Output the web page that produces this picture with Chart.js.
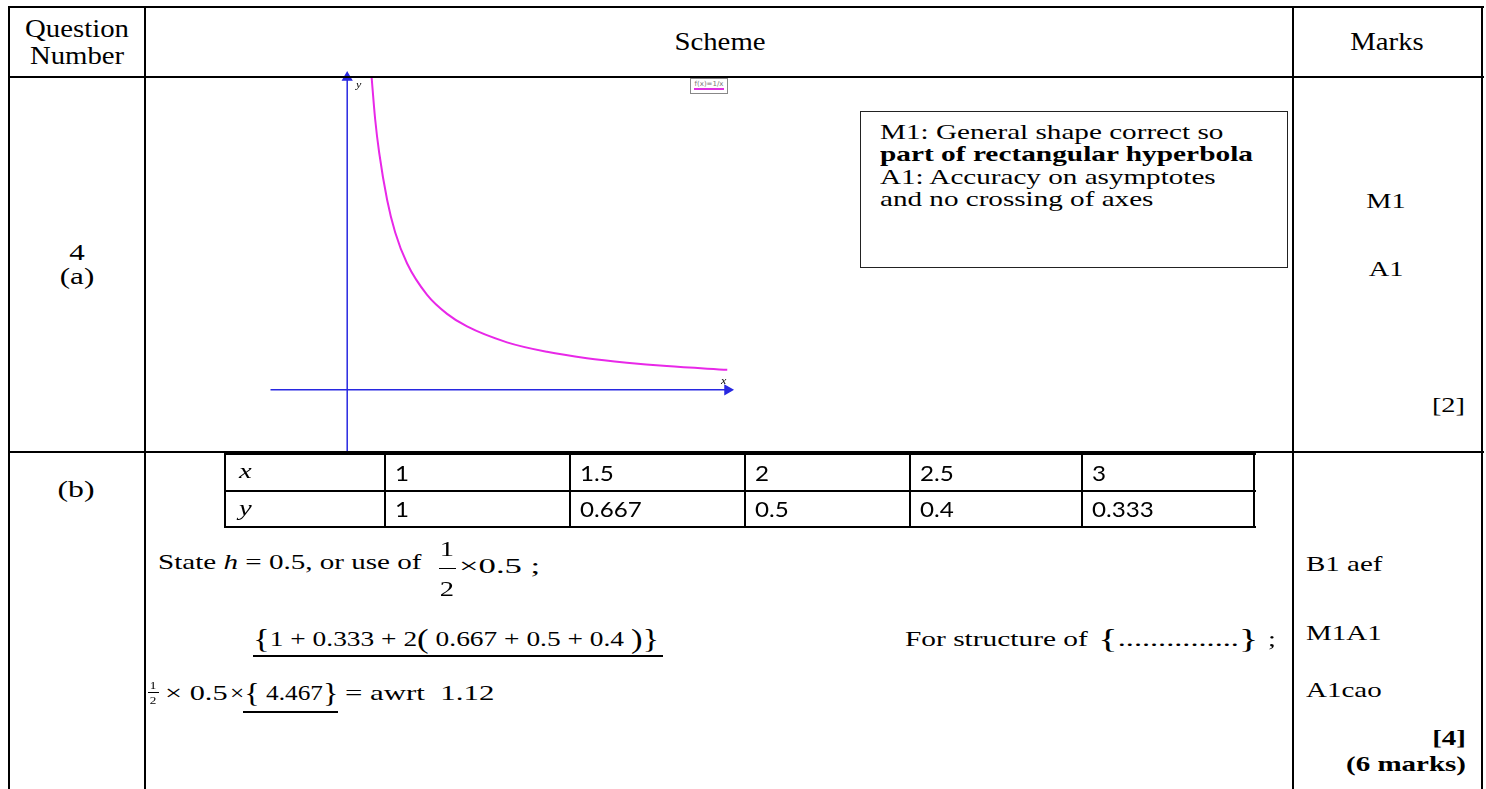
<!DOCTYPE html>
<html>
<head>
<meta charset="utf-8">
<script src="https://cdn.jsdelivr.net/npm/chart.js@4.4.0/dist/chart.umd.min.js"></script>
<style>
  body { margin: 0; background: #fff; width: 1486px; height: 789px; overflow: hidden; position: relative;
         font-family: 'Liberation Serif', 'Times New Roman', serif; color: #000; }
  .ln { position: absolute; background: #000; }
  .t { position: absolute; white-space: nowrap; transform-origin: 0 50%; }
  .box { position: absolute; border: 1.5px solid #222; box-sizing: border-box; }
  .big { font-size: 28px; vertical-align: -2px; }
  #plot { position: absolute; left: 264px; top: 71px; }
  #lg { position: absolute; left: 690px; top: 78px; width: 38px; height: 16px; border: 1px solid #888;
        box-sizing: border-box; background: #fff; font: 7px 'DejaVu Sans', sans-serif; color: #777; text-align: center; }
  #lg span { display: block; margin: 1px 3px 0; border-bottom: 2px solid #e030e0; line-height: 8px; }
</style>
</head>
<body>
<canvas id="plot" width="470" height="387"></canvas>
<div id="lg"><span>f(x)=1/x</span></div>
<script>
// table values for part (b)
const tableX = ['1', '1.5', '2', '2.5', '3'];
const tableY = ['1', '0.667', '0.5', '0.4', '0.333'];

// sketch of the curve
const curveX = [0.30, 0.35, 0.40, 0.50, 0.60, 0.75, 1.0, 1.25, 1.5, 2.0, 2.5, 3.0, 3.5, 4.0, 4.76];
const curveY = [3.35, 2.85, 2.50, 2.00, 1.66, 1.33, 1.00, 0.80, 0.667, 0.50, 0.40, 0.333, 0.286, 0.25, 0.21];

// axis extents of the sketch
const xRange = [-0.96, 4.76];
const yRange = [-0.65, 3.29];

const blue = 'rgb(40,40,225)';
const pink = 'rgb(232,40,232)';

function line(x, y, w, h) {
    const d = document.createElement('div');
    d.className = 'ln';
    d.style.left = x + 'px'; d.style.top = y + 'px';
    d.style.width = w + 'px'; d.style.height = h + 'px';
    document.body.appendChild(d);
}

// place a text; o.w = width to stretch it to, otherwise o.sx
function txt(html, x, y, o) {
    o = o || {};
    const size = o.size || 20;
    const d = document.createElement('div');
    d.className = 't';
    d.innerHTML = html;
    d.style.fontSize = size + 'px';
    d.style.lineHeight = size + 'px';
    d.style.left = x + 'px';
    d.style.top = (y - size / 2) + 'px';
    if (o.font) d.style.fontFamily = o.font;
    if (o.bold) d.style.fontWeight = 'bold';
    if (o.italic) d.style.fontStyle = 'italic';
    document.body.appendChild(d);
    let sx = o.sx || 1.4;
    if (o.w) sx = o.w / d.offsetWidth;
    let shift = '';
    if (o.align === 'center') shift = ' translateX(-50%)';
    if (o.align === 'right') shift = ' translateX(-100%)';
    d.style.transform = 'scaleX(' + sx + ')' + shift;
    return d;
}

// outer grid
line(8, 6, 1476, 2);
line(8, 76, 1476, 2);
line(8, 451, 1476, 2);
[8, 144, 1292, 1481].forEach(x => line(x, 6, 2, 789));

// header
txt('Question', 77, 28, { size: 25, sx: 1.15, align: 'center' });
txt('Number', 77, 55, { size: 25, sx: 1.15, align: 'center' });
txt('Scheme', 720, 41, { size: 25, sx: 1.15, align: 'center' });
txt('Marks', 1387, 41, { size: 25, sx: 1.15, align: 'center' });

// part (a)
txt('4', 77, 252, { size: 23, sx: 1.35, align: 'center' });
txt('(a)', 77, 276, { size: 23, sx: 1.35, align: 'center' });

const box = document.createElement('div');
box.className = 'box';
box.style.left = '860px'; box.style.top = '111px';
box.style.width = '428px'; box.style.height = '157px';
document.body.appendChild(box);
txt('M1: General shape correct so', 880, 132, { size: 21, w: 343 });
txt('<b>part of rectangular hyperbola</b>', 880, 154, { size: 21, w: 373 });
txt('A1: Accuracy on asymptotes', 880, 177, { size: 21, sx: 1.387 });
txt('and no crossing of axes', 880, 199, { size: 21, sx: 1.387 });

txt('M1', 1386, 201, { size: 21, sx: 1.35, align: 'center' });
txt('A1', 1386, 269, { size: 21, sx: 1.35, align: 'center' });
txt('[2]', 1465, 405, { size: 21, sx: 1.35, align: 'right' });

// part (b)
txt('(b)', 76, 489, { size: 23, sx: 1.38, align: 'center' });

const cols = [225, 385, 570, 745, 910, 1082, 1254];
const rows = [454, 491, 527];
rows.forEach(y => line(cols[0], y - 1, cols[6] - cols[0] + 2, 2));
cols.forEach(x => line(x - 1, rows[0] - 1, 2, rows[2] - rows[0] + 2));
txt('x', cols[0] + 14, 471, { size: 22, sx: 1.3, italic: true });
txt('y', cols[0] + 14, 508, { size: 22, sx: 1.3, italic: true });
tableX.forEach((v, i) => txt(v, cols[i + 1] + 10, 473, { size: 22, sx: 1.1, font: 'Lato, sans-serif' }));
tableY.forEach((v, i) => txt(v, cols[i + 1] + 10, 509, { size: 22, sx: 1.1, font: 'Lato, sans-serif' }));

txt('State <i>h</i> = 0.5, or use of', 158, 562, { size: 22, w: 263 });
txt('1', 447, 549, { size: 22, sx: 1.3, align: 'center' });
line(439, 568, 17, 1);
txt('2', 447, 589, { size: 22, sx: 1.3, align: 'center' });
txt('&times;0.5 ;', 459, 566, { size: 22, w: 82 });

txt('<span class="big">{</span>1 + 0.333 + 2<span class="big">(</span> 0.667 + 0.5 + 0.4 <span class="big">)}</span>',
    253, 639, { size: 22, w: 406 });
line(253, 655, 410, 1.5);
txt('For structure of', 905, 639, { size: 22, w: 183 });
txt('<span class="big">{</span>...............<span class="big">}</span>', 1098, 639, { size: 22, w: 160 });
txt(';', 1268, 639, { size: 22, sx: 1.3 });

txt('1', 153, 685, { size: 11, sx: 1.2, align: 'center' });
line(148, 692, 11, 1);
txt('2', 153, 700, { size: 11, sx: 1.2, align: 'center' });
txt('&times; 0.5', 165, 693, { size: 22, w: 62 });
txt('&times;<span class="big">{</span> 4.467<span class="big">}</span>', 230, 693, { size: 22, w: 108 });
line(243, 711, 95, 1.5);
txt('=&nbsp;awrt&nbsp; 1.12', 345, 693, { size: 22, w: 150 });

txt('B1 aef', 1306, 564, { size: 21, sx: 1.38 });
txt('M1A1', 1306, 633, { size: 21, sx: 1.38 });
txt('A1cao', 1306, 690, { size: 21, sx: 1.38 });
txt('<b>[4]</b>', 1466, 738, { size: 21, sx: 1.38, align: 'right' });
txt('<b>(6 marks)</b>', 1466, 764, { size: 21, sx: 1.38, align: 'right' });

// axis labels of the sketch
txt('y', 356, 85, { size: 10, sx: 1.2, italic: true });
txt('x', 721, 381, { size: 10, sx: 1.2, italic: true });

// the sketch itself
const curvePts = curveX.map((x, i) => ({ x: x, y: curveY[i] }));

new Chart(document.getElementById('plot'), {
    type: 'line',
    data: {
        datasets: [
            {
                label: 'x axis',
                data: [{ x: xRange[0], y: 0 }, { x: xRange[1], y: 0 }],
                borderColor: blue,
                backgroundColor: blue,
                borderWidth: 1.5,
                pointRadius: [0, 5],
                pointStyle: 'triangle',
                rotation: [0, 90],
                clip: false
            },
            {
                label: 'y axis',
                data: [{ x: 0, y: yRange[0] }, { x: 0, y: yRange[1] }],
                borderColor: blue,
                backgroundColor: blue,
                borderWidth: 1.5,
                pointRadius: [0, 5],
                pointStyle: 'triangle',
                clip: false
            },
            {
                label: 'f(x)=1/x',
                data: curvePts,
                borderColor: pink,
                borderWidth: 2,
                pointRadius: 0,
                cubicInterpolationMode: 'monotone',
                fill: false
            }
        ]
    },
    options: {
        responsive: false,
        animation: false,
        layout: { padding: 6 },
        plugins: { legend: { display: false }, tooltip: { enabled: false } },
        scales: {
            x: { type: 'linear', display: false, min: xRange[0], max: xRange[1] },
            y: { type: 'linear', display: false, min: yRange[0], max: yRange[1] }
        }
    }
});
</script>
</body>
</html>
